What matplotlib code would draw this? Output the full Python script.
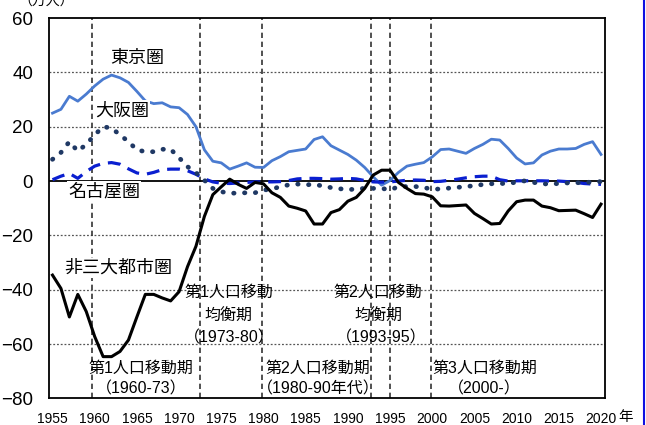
import matplotlib.pyplot as plt
from matplotlib.lines import Line2D

# data (万人)
years = list(range(1955, 2021))
tokyo = [25.0, 26.4, 31.2, 29.4, 32.0, 35.0, 37.5, 39.0, 38.0, 36.3,
         33.0, 29.5, 28.5, 28.8, 27.3, 27.0, 24.5, 20.0, 11.5, 7.3,
         6.7, 4.4, 5.5, 6.7, 5.1, 5.0, 7.5, 9.0, 10.8, 11.3,
         11.8, 15.3, 16.3, 13.0, 11.4, 9.8, 7.7, 5.0, 1.6, -1.5,
         0.2, 3.2, 5.5, 6.2, 6.8, 8.9, 11.6, 11.8, 11.0, 10.2,
         12.0, 13.5, 15.4, 15.1, 12.0, 8.5, 6.3, 6.7, 9.6, 11.0,
         11.8, 11.8, 12.0, 13.5, 14.5, 9.8]
osaka = [8.0, 10.5, 14.5, 11.0, 13.5, 17.0, 20.0, 19.5, 17.0, 14.5,
         11.5, 10.8, 10.8, 11.7, 11.7, 8.6, 5.3, 3.1, 0.3, -2.7,
         -3.9, -4.5, -4.4, -4.3, -4.3, -3.3, -3.0, -2.0, -1.4, -1.1,
         -1.4, -1.2, -1.8, -2.4, -2.8, -3.2, -2.9, -2.7, -2.7, -2.7,
         -3.2, -2.1, -2.0, -2.0, -2.4, -3.0, -2.9, -2.6, -2.3, -2.1,
         -1.6, -1.3, -1.0, -0.9, -0.9, -0.4, 0.1, -0.5, -1.0, -1.1,
         -0.9, -0.7, -0.6, -0.6, -0.3, -0.2]
nagoya = [0.5, 1.8, 2.8, 1.0, 3.5, 5.5, 6.5, 6.8, 6.2, 4.5,
          3.0, 2.5, 3.2, 4.2, 4.4, 4.4, 3.8, 2.5, 0.8, -0.3,
          -0.8, -0.9, -0.7, -0.5, -0.3, -0.3, -0.3, -0.2, 0.2, 0.8,
          1.0, 1.0, 0.9, 0.7, 0.8, 1.0, 0.8, 0.2, -0.3, -0.4,
          -0.3, 0.0, 0.3, 0.4, 0.3, -0.2, -0.1, 0.3, 0.7, 1.2,
          1.6, 1.8, 1.8, 0.5, 0.0, 0.1, 0.1, 0.1, 0.1, 0.0,
          0.0, -0.2, -0.5, -0.9, -1.1, -1.2]
others = [-34.6, -39.5, -50.0, -41.7, -48.0, -57.2, -64.6, -64.6, -62.7, -58.5,
          -50.0, -41.7, -41.7, -43.0, -44.1, -40.7, -31.5, -24.0, -13.0, -5.0,
          -2.1, 0.7, -1.2, -2.7, -0.5, -1.0, -4.3, -6.0, -9.2, -10.0,
          -11.0, -15.8, -15.8, -11.6, -10.5, -7.4, -6.0, -2.7, 2.2, 4.0,
          4.0, -0.5, -2.7, -4.6, -4.8, -5.8, -9.1, -9.2, -9.0, -8.8,
          -11.9, -13.8, -15.8, -15.6, -11.0, -7.6, -7.0, -7.0, -9.2, -9.8,
          -10.9, -10.8, -10.7, -12.0, -13.4, -8.5]

# period boundaries and their labels
boundaries = [1959.65, 1972.5, 1979.85, 1992.75, 1995.0, 1999.85]
series_labels = [("東京圏", 1965.1, 45.2, False),
                 ("大阪圏", 1963.3, 26.1, True),
                 ("名古屋圏", 1961.1, -3.7, True),
                 ("非三大都市圏", 1962.8, -32.0, True)]
period_labels = [("第1人口移動", 1975.9, -41.0), ("均衡期", 1975.9, -49.8),
                 ("（1973-80）", 1975.9, -57.7),
                 ("第1人口移動期", 1965.5, -69.1), ("（1960-73）", 1965.5, -76.3),
                 ("第2人口移動期", 1986.4, -69.1), ("（1980-90年代）", 1986.5, -76.3),
                 ("第2人口移動", 1993.6, -41.0), ("均衡期", 1993.6, -49.8),
                 ("（1993-95）", 1993.9, -57.7),
                 ("第3人口移動期", 2006.2, -69.1), ("（2000-）", 2006.2, -76.3)]
yticks = [-80, -60, -40, -20, 0, 20, 40, 60]
xticks = list(range(1955, 2021, 5))

jp = ["Noto Sans CJK JP", "DejaVu Sans"]
mixed = ["Liberation Sans", "Noto Sans CJK JP", "DejaVu Sans"]
num = ["Liberation Sans", "DejaVu Sans"]

fig = plt.figure(figsize=(6.46, 4.25), dpi=100)
ax = fig.add_axes([0.0759, 0.0624, 0.8606, 0.8952])

ax.set_xlim(1954.59, 2020.47)
ax.set_ylim(-80, 60)

for y in [-60, -40, -20, 20, 40]:
    ax.axhline(y, color="#555555", lw=0.9, linestyle=(0, (1.5, 1.5)), zorder=1)
ax.axhline(0, color="black", lw=1.3, zorder=2)
for x in boundaries:
    ax.axvline(x, color="#333333", lw=1.2, linestyle=(0, (3.2, 2.2)), zorder=1)

ax.plot(years, tokyo, color="#4a7bd0", lw=2.0, zorder=3)
ax.plot(years, nagoya, color="#0a1fd0", lw=2.3, linestyle=(0, (4, 2.5)), zorder=3)
ax.plot(years, osaka, color="#1f3864", lw=3.4, linestyle=(0, (0.1, 2.2)),
        dash_capstyle="round", zorder=3)
ax.plot(years, others, color="black", lw=2.2, zorder=4)

for s, x, y, box in series_labels:
    kw = dict(boxstyle="square,pad=0.05", fc="white", ec="none") if box else None
    ax.text(x, y, s, ha="center", va="center", fontsize=13, family=jp,
            bbox=kw, zorder=5)
for s, x, y in period_labels:
    ax.text(x, y, s, ha="center", va="center", fontsize=11.5, family=mixed, zorder=5)

ax.set_yticks(yticks)
ax.set_xticks(xticks)
ax.tick_params(length=0)
ax.tick_params(axis="y", labelsize=13.5, pad=11.5)
ax.tick_params(axis="x", labelsize=10, pad=9.5)
for lab in ax.get_xticklabels() + ax.get_yticklabels():
    lab.set_family(num)
for sp in ax.spines.values():
    sp.set_linewidth(1.3)
    sp.set_color("black")

fig.text(0.969, 0.019, "年", ha="center", va="center", fontsize=10.5, family=jp)
fig.text(0.072, 0.997, "（万人）", ha="center", va="center", fontsize=10, family=jp)
fig.add_artist(Line2D([0.9975, 0.9975], [0, 1], color="#1010e0", lw=1.5,
                      transform=fig.transFigure))

fig.savefig("out.png", dpi=100)
